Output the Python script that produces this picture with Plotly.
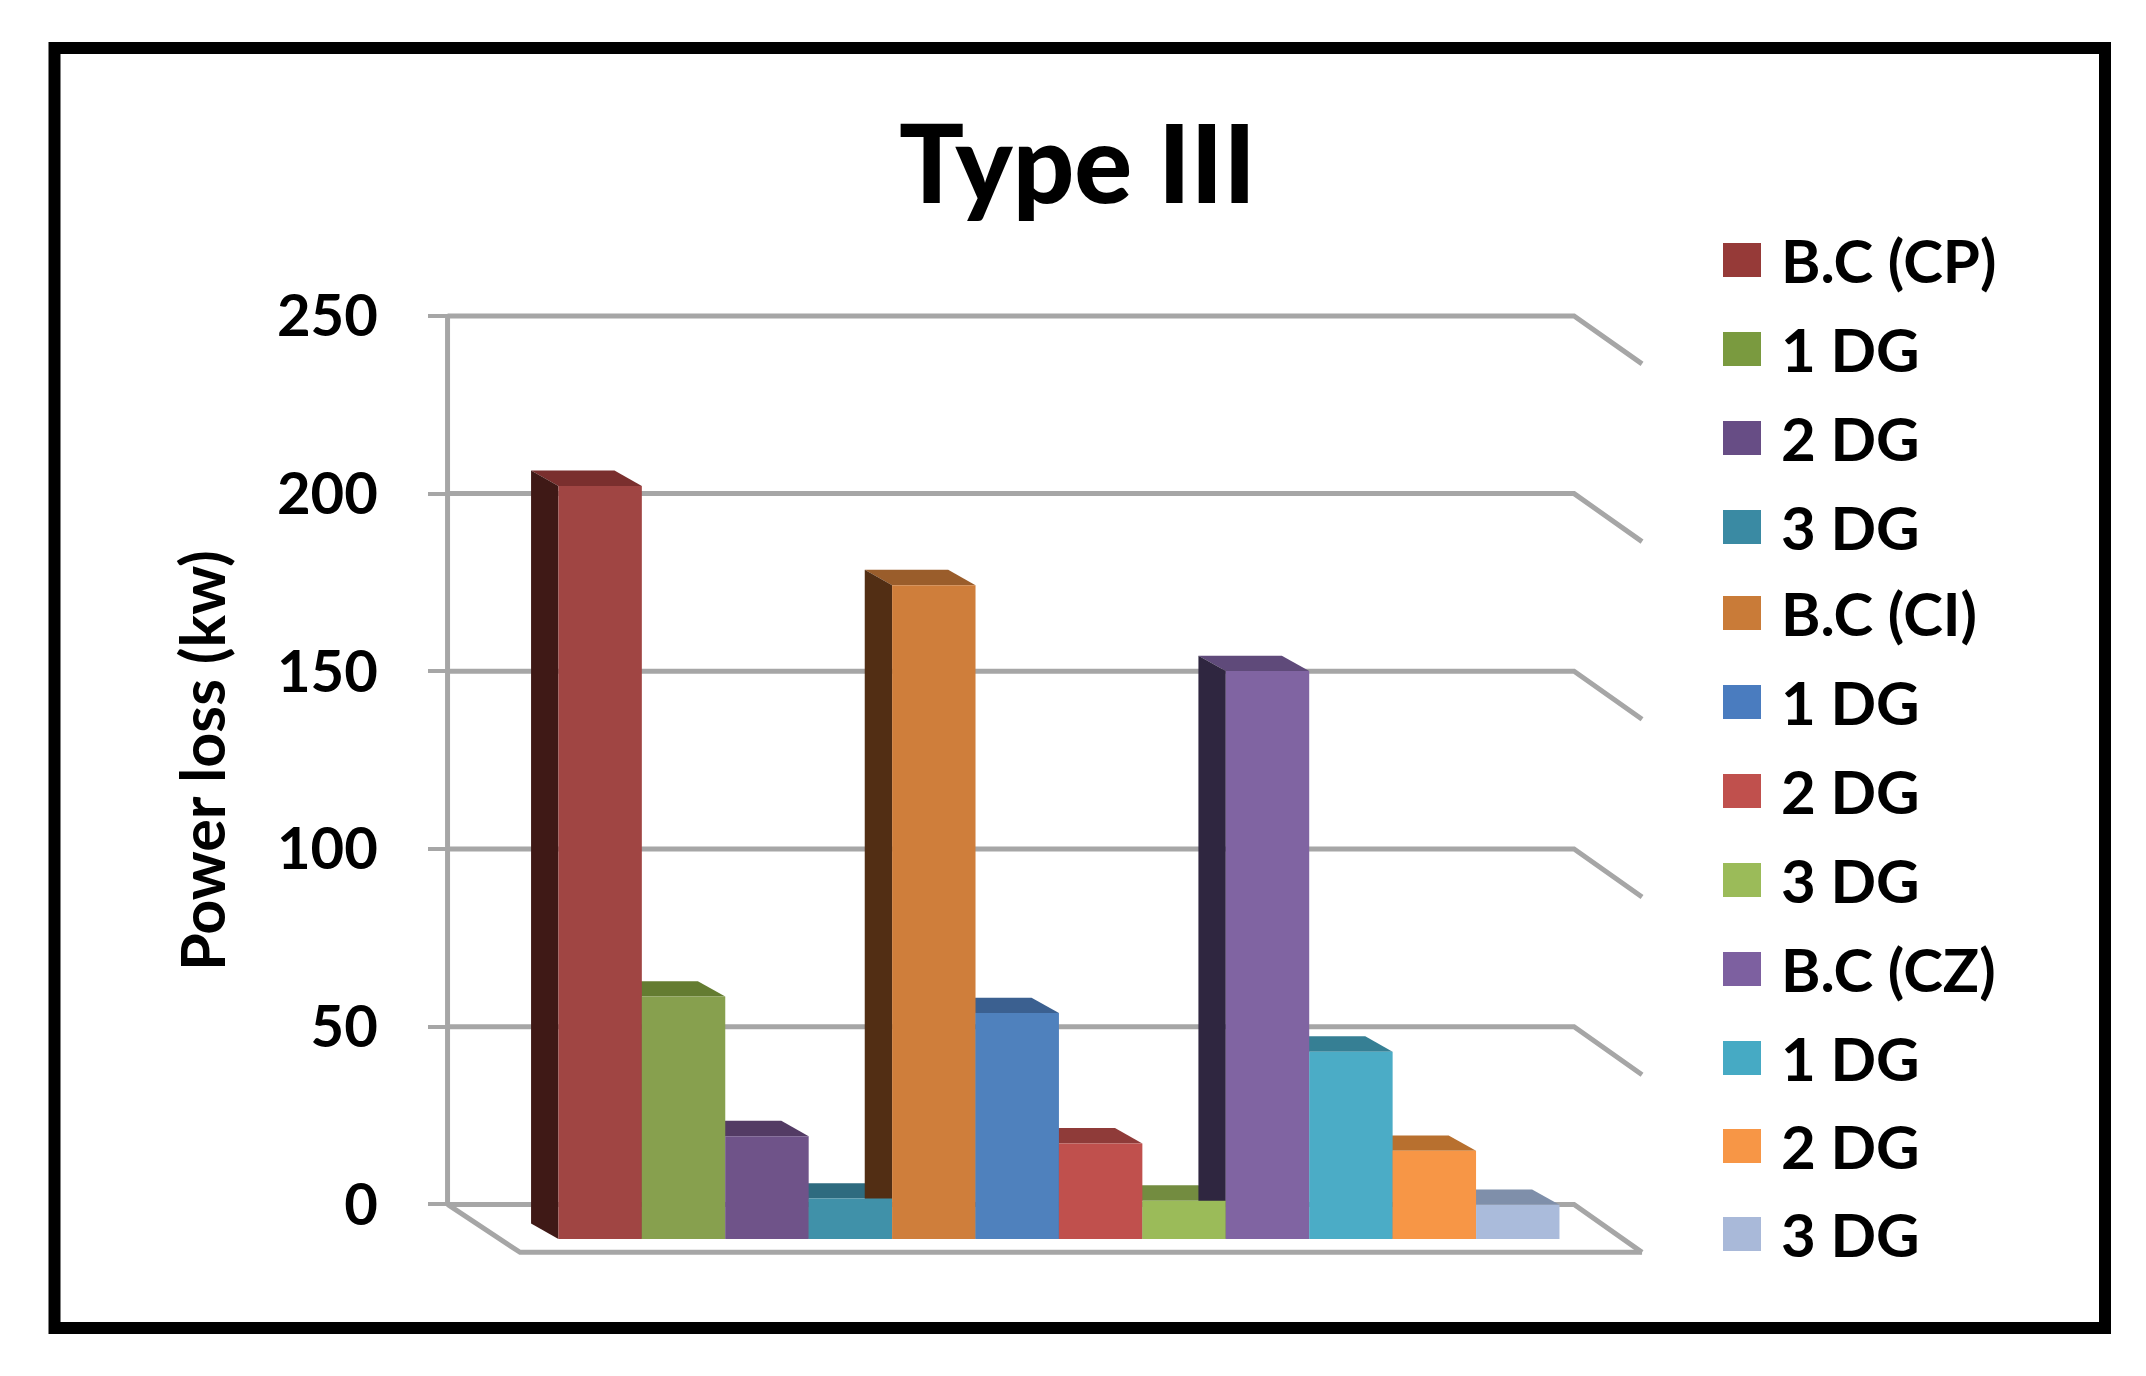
import plotly.graph_objects as go

W, H = 2146, 1376
TITLE = "Type III"
Y_TITLE = "Power loss (kw)"
LABELS = ["B.C (CP)", "1 DG", "2 DG", "3 DG", "B.C (CI)", "1 DG", "2 DG", "3 DG", "B.C (CZ)", "1 DG", "2 DG", "3 DG"]
VALUES = [205, 66, 28, 11, 178, 61.5, 26, 10.4, 154.6, 51, 24, 9.3]
TICKS = [0, 50, 100, 150, 200, 250]
FRONT = ["#A04543", "#87A04E", "#6F5389", "#4091A9", "#CF7E3B", "#4F81BD", "#C0504D", "#9BBB59", "#8064A2", "#4BACC6", "#F79646", "#AABBDB"]
TOP = ["#7A2F2E", "#647C31", "#533B64", "#2E6B7F", "#9A5D2B", "#3B6090", "#8F3B39", "#738C40", "#5F4A7A", "#367F94", "#B8702F", "#7F8FAA"]
SIDE = ["#3F1916", "#3F4D1E", "#33243F", "#1C4250", "#522E14", "#263F5C", "#552220", "#47562A", "#2F2640", "#215261", "#70431C", "#525D70"]
LEGEND = ["#963A38", "#7A9A3F", "#674D85", "#3A8AA3", "#C97B38", "#4A7CBF", "#C0504D", "#9BBB59", "#7D60A0", "#46AAC4", "#F79646", "#A9B9D9"]
LEGEND_Y = [260, 349, 438, 527, 613, 702, 791, 880, 969, 1058, 1146, 1234]

GRID = "#A6A6A6"
FONT = "Lato"

# axis ranges: every axis spans the full page, so data positions come from these scales
XR = [-7.194, 18.531]
YR_BACK = [-48.29, 338.9]      # back wall scale (ticks)
YR_FRONT = [-37.3, 337.3]      # front plane scale (bars)
WALL_L, WALL_R = -1.829, 11.675
FLOOR_L, FLOOR_R = -0.96, 12.49
DX, DY = 0.328, 4.2            # bar depth
FLOOR_DY = 13.5


def back2front(v):
    """Convert a back-wall value into the front axis coordinates."""
    frac = (v - YR_BACK[0]) / (YR_BACK[1] - YR_BACK[0])
    return YR_FRONT[0] + frac * (YR_FRONT[1] - YR_FRONT[0])


def poly(pts, color):
    path = "M " + " L ".join(f"{x},{y}" for x, y in pts) + " Z"
    return dict(type="path", path=path, xref="x", yref="y2", fillcolor=color, line_width=0, layer="below")


def stroke(pts):
    path = "M " + " L ".join(f"{x},{y}" for x, y in pts)
    return dict(type="path", path=path, xref="x", yref="y2", line=dict(color=GRID, width=5), layer="below")


shapes = []
# gridlines (wall + diagonal side wall)
for t in TICKS:
    shapes.append(stroke([(WALL_L, back2front(t)), (WALL_R, back2front(t)), (FLOOR_R, back2front(t - FLOOR_DY))]))
# vertical wall line
shapes.append(stroke([(WALL_L, back2front(TICKS[0])), (WALL_L, back2front(TICKS[-1]))]))
# floor
shapes.append(stroke([(WALL_L, back2front(0)), (FLOOR_L, back2front(-FLOOR_DY)), (FLOOR_R, back2front(-FLOOR_DY))]))

# 3-D faces derived from the values
for i, v in enumerate(VALUES):
    l, r = i - 0.5, i + 0.5
    shapes.append(poly([(l, v), (r, v), (r - DX, v + DY), (l - DX, v + DY)], TOP[i]))
    shapes.append(poly([(l, 0), (l, v), (l - DX, v + DY), (l - DX, DY)], SIDE[i]))

# outer frame
shapes.append(dict(type="rect", xref="paper", yref="paper", x0=54.5 / W, x1=2105 / W, y0=1 - 1328 / H, y1=1 - 48 / H,
                   line=dict(color="#000000", width=12), fillcolor="rgba(0,0,0,0)", layer="above"))

annotations = [
    dict(text=TITLE, xref="paper", yref="paper", x=1077 / W, y=1 - 161 / H, showarrow=False, xanchor="center", yanchor="middle",
         font=dict(family=FONT, size=108, color="#000000", weight=900)),
    dict(text=Y_TITLE, xref="paper", yref="paper", x=201 / W, y=1 - 761 / H, showarrow=False, textangle=-90, xanchor="center", yanchor="middle",
         font=dict(family=FONT, size=61, color="#000000", weight=700)),
]
# legend
for lab, c, y in zip(LABELS, LEGEND, LEGEND_Y):
    shapes.append(dict(type="rect", xref="paper", yref="paper", x0=1723 / W, x1=1761 / W,
                       y0=1 - (y + 17) / H, y1=1 - (y - 17) / H, fillcolor=c, line_width=0))
    annotations.append(dict(text=lab, xref="paper", yref="paper", x=1779 / W, y=1 - y / H, xanchor="left", yanchor="middle",
                            showarrow=False, font=dict(family=FONT, size=60, color="#000000", weight=700)))

fig = go.Figure()
# keeps the back-wall axis alive
fig.add_trace(go.Scatter(x=[None], y=[None], yaxis="y", showlegend=False, hoverinfo="skip"))
for i, (lab, v) in enumerate(zip(LABELS, VALUES)):
    fig.add_trace(go.Bar(x=[i], y=[v], width=1, name=lab, yaxis="y2", marker=dict(color=FRONT[i], line_width=0), showlegend=False))

fig.update_layout(
    width=W, height=H, margin=dict(l=0, r=0, t=0, b=0, pad=0),
    paper_bgcolor="white", plot_bgcolor="white", barmode="overlay", showlegend=False,
    xaxis=dict(domain=[0, 1], range=XR, visible=False, fixedrange=True),
    yaxis=dict(domain=[0, 1], range=YR_BACK, anchor="free", position=447.5 / W, tickvals=TICKS, ticktext=[str(t) for t in TICKS],
               ticks="outside", ticklen=20, tickwidth=4, tickcolor=GRID, showgrid=False, zeroline=False, showline=False,
               ticklabelstandoff=38, tickfont=dict(family=FONT, size=58, color="#000000", weight=700)),
    yaxis2=dict(domain=[0, 1], range=YR_FRONT, overlaying="y", visible=False, side="left"),
    shapes=shapes, annotations=annotations,
)
fig.write_html("out.html", config={"displayModeBar": False},
               post_script="document.body.style.margin='0';document.documentElement.style.overflow='hidden';")
